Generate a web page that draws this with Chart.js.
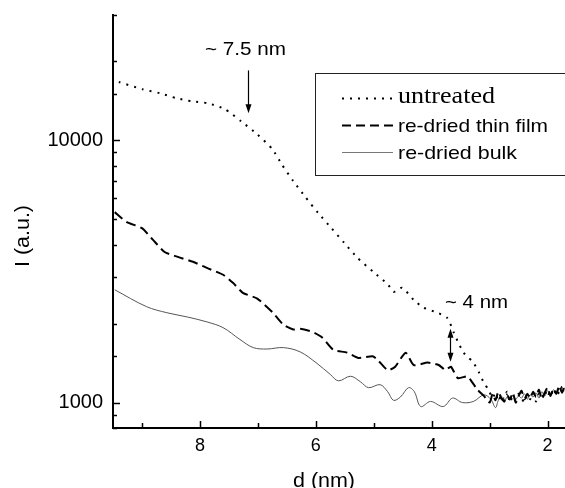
<!DOCTYPE html>
<html>
<head>
<meta charset="utf-8">
<title>I vs d</title>
<script src="https://cdn.jsdelivr.net/npm/chart.js@4"></script>
<style>
  html, body { margin: 0; padding: 0; background: #fff; }
  #chart { display: block; }
</style>
</head>
<body>
<canvas id="chart" width="565" height="488"></canvas>
<script>
// d (nm) and intensity
const untreatedD = [9.4, 8.99, 8.69, 8.40, 8.14, 7.86, 7.57, 7.29, 7.01, 6.75, 6.58, 6.39, 6.18, 5.96, 5.73, 5.51, 5.28, 5.01, 4.75, 4.66, 4.51, 4.31, 4.14, 3.90, 3.73, 3.62, 3.54, 3.45, 3.36, 3.29, 3.19, 3.10, 3.02,
  2.95, 2.90, 2.85, 2.80, 2.75, 2.70, 2.65, 2.60, 2.55, 2.50, 2.45, 2.40, 2.35, 2.30, 2.25, 2.20, 2.15, 2.10, 2.05, 2.00, 1.95, 1.90, 1.85, 1.80, 1.75, 1.70, 1.65];
const untreatedI = [16670, 15630, 15100, 14450, 14070, 13830, 13130, 11810, 10530, 9240, 8040, 6990, 6070, 5280, 4620, 4060, 3560, 3150, 2810, 2640, 2740, 2460, 2300, 2200, 2100, 1850, 1690, 1550, 1480, 1430, 1310, 1190, 1120,
  1040, 1090, 1010, 1070, 1030, 1100, 1000, 1060, 1020, 1080, 1040, 1000, 1070, 1030, 1090, 1010, 1080, 1040, 1110, 1050, 1120, 1060, 1130, 1080, 1150, 1100, 1160];

const filmD = [9.47, 9.26, 9.00, 8.81, 8.61, 8.38, 8.12, 7.88, 7.60, 7.43, 7.26, 7.01, 6.74, 6.56, 6.39, 6.27, 6.06, 5.89, 5.70, 5.46, 5.27, 5.02, 4.94, 4.76, 4.63, 4.45, 4.31, 4.07, 3.88, 3.76, 3.67, 3.55, 3.38, 3.33, 3.21,
  3.10, 3.00, 2.95, 2.90, 2.85, 2.80, 2.75, 2.70, 2.65, 2.60, 2.55, 2.50, 2.45, 2.40, 2.35, 2.30, 2.25, 2.20, 2.15, 2.10, 2.05, 2.00, 1.95, 1.90, 1.85, 1.80, 1.75, 1.70, 1.65];
const filmI = [5320, 4870, 4620, 4170, 3750, 3590, 3440, 3260, 3070, 2860, 2620, 2490, 2200, 1980, 1900, 1910, 1860, 1770, 1590, 1550, 1480, 1500, 1460, 1330, 1370, 1550, 1390, 1420, 1390, 1330, 1370, 1240, 1260, 1220, 1120,
  1060, 1000, 1080, 1020, 1100, 1040, 1010, 1070, 1030, 1090, 1000, 1060, 1110, 1030, 1080, 1040, 1100, 1050, 1120, 1030, 1090, 1140, 1060, 1130, 1080, 1160, 1090, 1170, 1120];

const bulkD = [9.47, 8.92, 8.57, 8.22, 7.88, 7.60, 7.31, 7.08, 6.84, 6.56, 6.27, 5.98, 5.75, 5.61, 5.40, 5.23, 5.09, 4.89, 4.76, 4.66, 4.54, 4.40, 4.30, 4.19, 4.02, 3.80, 3.64, 3.47, 3.28, 3.10, 2.98, 2.90,
  2.85, 2.80, 2.75, 2.70, 2.65, 2.60, 2.55, 2.50, 2.45, 2.40, 2.35, 2.30, 2.25, 2.20, 2.15, 2.10, 2.05, 2.00, 1.95, 1.90, 1.85, 1.80, 1.75, 1.70, 1.65];
const bulkI = [2690, 2320, 2200, 2120, 2030, 1930, 1740, 1620, 1600, 1620, 1560, 1410, 1280, 1210, 1260, 1200, 1140, 1170, 1100, 1020, 1050, 1140, 1100, 966, 1010, 966, 1040, 1000, 1010, 1070, 1030, 957,
  1020, 1060, 1000, 1050, 1020, 1070, 1030, 1060, 1040, 1080, 1030, 1070, 1050, 1090, 1040, 1100, 1060, 1110, 1070, 1120, 1080, 1130, 1090, 1140, 1110];

const seriesNames = ["untreated", "re-dried thin film", "re-dried bulk"];
const yLabelTicks = [1000, 10000];
const xLabelTicks = [2, 4, 6, 8];

const SANS = '"Liberation Sans", Arial, sans-serif';
const SERIF = '"Liberation Serif", "Times New Roman", serif';

function toPoints(d, v) {
  return d.map((x, i) => ({ x: x, y: v[i] }));
}

// text squeezed/stretched to a given width
function fitText(ctx, text, x, y, font, width, align) {
  ctx.save();
  ctx.font = font;
  const w = ctx.measureText(text).width;
  const k = width / w;
  ctx.translate(x, y);
  ctx.scale(k, 1);
  ctx.textAlign = align || "left";
  ctx.fillText(text, 0, 0);
  ctx.restore();
}

function arrowHead(ctx, x, y, dir) {
  ctx.beginPath();
  ctx.moveTo(x, y);
  ctx.lineTo(x - 3, y - 9 * dir);
  ctx.lineTo(x + 3, y - 9 * dir);
  ctx.closePath();
  ctx.fill();
}

const decorations = {
  id: "decorations",
  afterDraw(chart) {
    const ctx = chart.ctx;
    const area = chart.chartArea;
    const xs = chart.scales.x;
    const ys = chart.scales.y;
    ctx.save();
    ctx.strokeStyle = "#000";
    ctx.fillStyle = "#000";
    ctx.lineWidth = 1.5;

    // tick marks pointing into the plot
    xs.ticks.forEach((t) => {
      const px = Math.round(xs.getPixelForValue(t.value)) + 0.5;
      const len = xLabelTicks.includes(t.value) ? 7 : 5;
      ctx.beginPath();
      ctx.moveTo(px, area.bottom);
      ctx.lineTo(px, area.bottom - len);
      ctx.stroke();
    });
    ys.ticks.forEach((t) => {
      const py = Math.round(ys.getPixelForValue(t.value)) + 0.5;
      const len = yLabelTicks.includes(t.value) ? 7 : 4;
      ctx.beginPath();
      ctx.moveTo(area.left, py);
      ctx.lineTo(area.left + len, py);
      ctx.stroke();
    });

    // axis titles
    fitText(ctx, "d (nm)", 324, 487, "20px " + SANS, 62, "center");
    ctx.save();
    ctx.translate(29, 236);
    ctx.rotate(-Math.PI / 2);
    fitText(ctx, "I (a.u.)", 0, 0, "20px " + SANS, 62, "center");
    ctx.restore();

    // annotation ~7.5 nm
    fitText(ctx, "~ 7.5 nm", 205, 55, "19px " + SANS, 81, "left");
    let ax = Math.round(xs.getPixelForValue(7.17)) + 0.5;
    let yTop = ys.getPixelForValue(18450);
    let yBot = ys.getPixelForValue(12680);
    ctx.lineWidth = 1.2;
    ctx.beginPath();
    ctx.moveTo(ax, yTop);
    ctx.lineTo(ax, yBot - 6);
    ctx.stroke();
    arrowHead(ctx, ax, yBot, 1);

    // annotation ~4 nm
    fitText(ctx, "~ 4 nm", 445, 308, "19px " + SANS, 63, "left");
    ax = Math.round(xs.getPixelForValue(3.69)) + 0.5;
    yTop = ys.getPixelForValue(1910);
    yBot = ys.getPixelForValue(1430);
    ctx.beginPath();
    ctx.moveTo(ax, yTop + 6);
    ctx.lineTo(ax, yBot - 6);
    ctx.stroke();
    arrowHead(ctx, ax, yTop, -1);
    arrowHead(ctx, ax, yBot, 1);

    // legend box
    ctx.lineWidth = 1;
    ctx.strokeStyle = "#222";
    ctx.strokeRect(315.5, 73.5, 270, 102);

    const rows = [98, 125, 152];
    const styles = [
      { dash: [2, 6], width: 1.8, color: "#000" },
      { dash: [9, 5], width: 2, color: "#000" },
      { dash: [], width: 1.2, color: "#777" },
    ];
    styles.forEach((s, i) => {
      ctx.save();
      ctx.setLineDash(s.dash);
      ctx.lineWidth = s.width;
      ctx.strokeStyle = s.color;
      ctx.beginPath();
      ctx.moveTo(342, rows[i] + 0.5);
      ctx.lineTo(393, rows[i] + 0.5);
      ctx.stroke();
      ctx.restore();
    });
    ctx.fillStyle = "#000";
    fitText(ctx, seriesNames[0], 398, 103, "23px " + SERIF, 97, "left");
    fitText(ctx, seriesNames[1], 398, 132, "19px " + SANS, 150, "left");
    fitText(ctx, seriesNames[2], 398, 159, "19px " + SANS, 119, "left");

    ctx.restore();
  },
};

new Chart(document.getElementById("chart"), {
  type: "line",
  data: {
    datasets: [
      {
        label: seriesNames[0],
        data: toPoints(untreatedD, untreatedI),
        borderColor: "#000",
        borderWidth: 2,
        borderDash: [2, 6],
        pointRadius: 0,
        tension: 0.2,
      },
      {
        label: seriesNames[1],
        data: toPoints(filmD, filmI),
        borderColor: "#000",
        borderWidth: 2,
        borderDash: [10, 5],
        pointRadius: 0,
        tension: 0.2,
      },
      {
        label: seriesNames[2],
        data: toPoints(bulkD, bulkI),
        borderColor: "#555",
        borderWidth: 1,
        pointRadius: 0,
        tension: 0.35,
      },
    ],
  },
  options: {
    responsive: false,
    animation: false,
    devicePixelRatio: 1,
    layout: { padding: { top: 15, right: 0, left: 0, bottom: 0 } },
    plugins: {
      legend: { display: false },
      tooltip: { enabled: false },
    },
    scales: {
      x: {
        type: "linear",
        reverse: true,
        min: 1.7,
        max: 9.5,
        afterFit: (scale) => {
          scale.height = 60;
          scale.paddingLeft = 0;
          scale.paddingRight = 0;
        },
        grid: { drawOnChartArea: false, drawTicks: false },
        border: { display: true, color: "#000", width: 2 },
        ticks: {
          stepSize: 1,
          includeBounds: false,
          autoSkip: false,
          maxRotation: 0,
          padding: 7,
          color: "#000",
          font: { family: SANS, size: 18 },
          callback: (v) => (xLabelTicks.includes(v) ? String(v) : ""),
        },
      },
      y: {
        type: "logarithmic",
        min: 800,
        max: 30000,
        afterFit: (scale) => {
          scale.width = 113;
          scale.paddingTop = 0;
          scale.paddingBottom = 0;
        },
        grid: { drawOnChartArea: false, drawTicks: false },
        border: { display: true, color: "#000", width: 2 },
        ticks: {
          autoSkip: false,
          padding: 10,
          color: "#000",
          font: { family: SANS, size: 20 },
          callback: (v) => (yLabelTicks.includes(v) ? String(v) : ""),
        },
      },
    },
  },
  plugins: [decorations],
});
</script>
</body>
</html>
